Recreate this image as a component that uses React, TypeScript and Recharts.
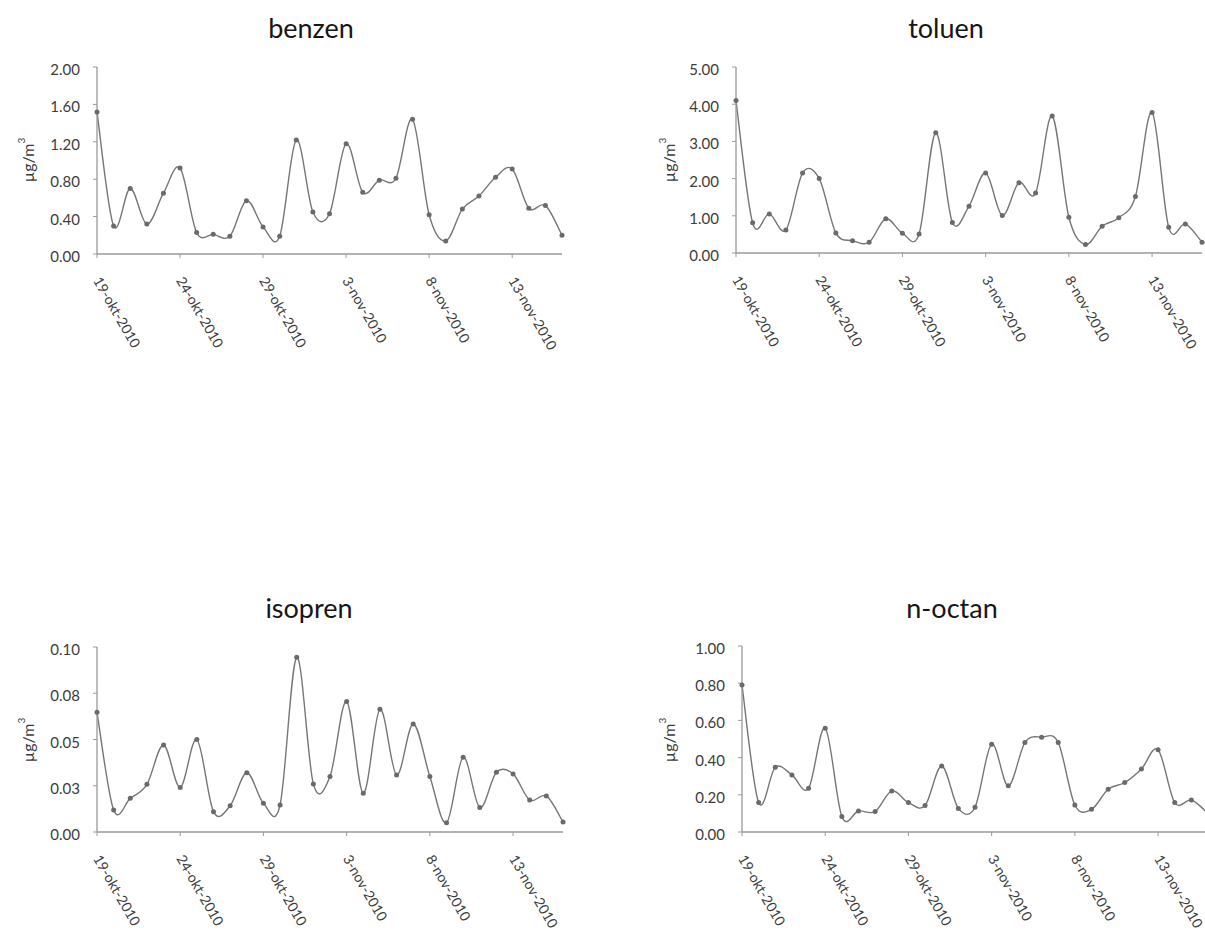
import React from 'react';
import { LineChart, Line, XAxis, YAxis } from 'recharts';

const dates = [
  '19-okt-2010', '20-okt-2010', '21-okt-2010', '22-okt-2010', '23-okt-2010', '24-okt-2010',
  '25-okt-2010', '26-okt-2010', '27-okt-2010', '28-okt-2010', '29-okt-2010', '30-okt-2010',
  '31-okt-2010', '1-nov-2010', '2-nov-2010', '3-nov-2010', '4-nov-2010', '5-nov-2010',
  '6-nov-2010', '7-nov-2010', '8-nov-2010', '9-nov-2010', '10-nov-2010', '11-nov-2010',
  '12-nov-2010', '13-nov-2010', '14-nov-2010', '15-nov-2010', '16-nov-2010',
];

const benzen = [1.52, 0.3, 0.7, 0.32, 0.65, 0.92, 0.23, 0.21, 0.19, 0.57, 0.29, 0.19, 1.22, 0.45, 0.43, 1.18, 0.66, 0.79, 0.81, 1.44, 0.42, 0.14, 0.48, 0.62, 0.82, 0.91, 0.49, 0.52, 0.2];
const toluen = [4.1, 0.81, 1.05, 0.62, 2.15, 2.0, 0.54, 0.33, 0.29, 0.92, 0.53, 0.51, 3.23, 0.82, 1.26, 2.15, 1.01, 1.89, 1.61, 3.68, 0.96, 0.23, 0.72, 0.95, 1.52, 3.78, 0.69, 0.78, 0.29];
const isopren = [0.0647, 0.0119, 0.0182, 0.0258, 0.047, 0.0241, 0.05, 0.011, 0.0142, 0.032, 0.0155, 0.0146, 0.0944, 0.026, 0.03, 0.0705, 0.0209, 0.0663, 0.0308, 0.0584, 0.03, 0.005, 0.0404, 0.0133, 0.0323, 0.0314, 0.0173, 0.0195, 0.0054];
const noctan = [0.79, 0.158, 0.348, 0.307, 0.235, 0.558, 0.083, 0.113, 0.11, 0.221, 0.158, 0.142, 0.355, 0.127, 0.133, 0.472, 0.248, 0.481, 0.51, 0.481, 0.145, 0.122, 0.23, 0.266, 0.339, 0.442, 0.158, 0.172, 0.1];

const benzenTicks = [0, 0.4, 0.8, 1.2, 1.6, 2.0];
const benzenTickLabels = ['0.00', '0.40', '0.80', '1.20', '1.60', '2.00'];
const toluenTicks = [0, 1, 2, 3, 4, 5];
const toluenTickLabels = ['0.00', '1.00', '2.00', '3.00', '4.00', '5.00'];
const isoprenTicks = [0, 0.025, 0.05, 0.075, 0.1];
const isoprenTickLabels = ['0.00', '0.03', '0.05', '0.08', '0.10'];
const noctanTicks = [0, 0.2, 0.4, 0.6, 0.8, 1.0];
const noctanTickLabels = ['0.00', '0.20', '0.40', '0.60', '0.80', '1.00'];

const titles = ['benzen', 'toluen', 'isopren', 'n-octan'];
const unitLabel = 'µg/m';
const unitSup = '3';

const FONT = 'Lato, "Open Sans", sans-serif';
const LINE_COLOR = '#767676';
const AXIS_COLOR = '#9a9a9a';
const TEXT_COLOR = '#3c3c3c';

// Excel-like smoothing (uniform Catmull-Rom through points)
const smoothCurve: any = (context: any) => {
  let pts: number[][] = [];
  return {
    areaStart() {},
    areaEnd() {},
    lineStart() {
      pts = [];
    },
    point(x: number, y: number) {
      pts.push([+x, +y]);
    },
    lineEnd() {
      const n = pts.length;
      if (!n) return;
      context.moveTo(pts[0][0], pts[0][1]);
      const t = 1 / 6;
      for (let i = 0; i < n - 1; i++) {
        const p0 = pts[i - 1] || pts[i];
        const p1 = pts[i];
        const p2 = pts[i + 1];
        const p3 = pts[i + 2] || p2;
        context.bezierCurveTo(
          p1[0] + (p2[0] - p0[0]) * t,
          p1[1] + (p2[1] - p0[1]) * t,
          p2[0] - (p3[0] - p1[0]) * t,
          p2[1] - (p3[1] - p1[1]) * t,
          p2[0],
          p2[1]
        );
      }
    },
  };
};

const XTick = (props: any) => {
  const { x, y, payload } = props;
  return (
    <g transform={`translate(${x},${y})`}>
      <text
        x={0}
        y={0}
        dy="0.35em"
        transform="rotate(60)"
        textAnchor="start"
        fontSize={14}
        fontFamily={FONT}
        fill={TEXT_COLOR}
      >
        {payload.value}
      </text>
    </g>
  );
};

const makeYTick = (ticks: number[], labels: string[]) => (props: any) => {
  const { x, y, payload } = props;
  const idx = ticks.findIndex((t) => Math.abs(t - payload.value) < 1e-9);
  const label = idx >= 0 ? labels[idx] : String(payload.value);
  return (
    <text
      x={x}
      y={y}
      dy={8}
      textAnchor="end"
      fontSize={15}
      fontFamily={FONT}
      fill={TEXT_COLOR}
    >
      {label}
    </text>
  );
};

type PanelProps = {
  values: number[];
  ticks: number[];
  tickLabels: string[];
  plotLeft: number;
  plotTop: number;
  plotW: number;
  plotH: number;
};

const Panel = (p: PanelProps) => {
  const data = dates.map((d, i) => ({ date: d, v: p.values[i] }));
  const mLeft = 30;
  const yW = 60;
  const mTop = 10;
  const xH = 140;
  const chartLeft = p.plotLeft - mLeft - yW;
  const chartTop = p.plotTop - mTop;
  const W = p.plotW + mLeft + yW + 20;
  const H = p.plotH + mTop + xH + 5;
  const YTick = makeYTick(p.ticks, p.tickLabels);
  return (
    <div style={{ position: 'absolute', left: chartLeft, top: chartTop }}>
      <LineChart
        width={W}
        height={H}
        data={data}
        margin={{ top: mTop, left: mLeft, right: 20, bottom: 5 }}
      >
        <XAxis
          dataKey="date"
          interval={4}
          height={xH}
          tick={<XTick />}
          tickSize={4}
          tickMargin={20}
          axisLine={{ stroke: AXIS_COLOR, strokeWidth: 1.3 }}
          tickLine={{ stroke: AXIS_COLOR }}
        />
        <YAxis
          width={yW}
          domain={[p.ticks[0], p.ticks[p.ticks.length - 1]]}
          ticks={p.ticks}
          tickSize={4}
          tickMargin={13}
          tick={<YTick />}
          axisLine={{ stroke: AXIS_COLOR, strokeWidth: 1.3 }}
          tickLine={{ stroke: AXIS_COLOR }}
          allowDataOverflow
        />
        <Line
          dataKey="v"
          type={smoothCurve}
          stroke={LINE_COLOR}
          strokeWidth={1.4}
          dot={{ r: 2.5, fill: '#6a6a6a', stroke: 'none' }}
          activeDot={false}
          isAnimationActive={false}
        />
      </LineChart>
    </div>
  );
};

const Title = ({ x, y, text }: { x: number; y: number; text: string }) => (
  <text x={x} y={y} textAnchor="middle" fontSize={27} fontFamily={FONT} fill="#161616">
    {text}
  </text>
);

const Unit = ({ x, y }: { x: number; y: number }) => (
  <text
    transform={`translate(${x},${y}) rotate(-90)`}
    textAnchor="middle"
    dominantBaseline="central"
    fontSize={16}
    fontFamily={FONT}
    fill={TEXT_COLOR}
  >
    {unitLabel}
    <tspan dy={-6} fontSize={10}>{unitSup}</tspan>
  </text>
);

export default function App() {
  return (
    <div
      style={{
        position: 'absolute',
        left: 0,
        top: 0,
        width: 1205,
        height: 936,
        overflow: 'hidden',
        background: '#fff',
      }}
    >
      <Panel values={benzen} ticks={benzenTicks} tickLabels={benzenTickLabels}
        plotLeft={97} plotTop={67} plotW={465} plotH={187} />
      <Panel values={toluen} ticks={toluenTicks} tickLabels={toluenTickLabels}
        plotLeft={736} plotTop={67} plotW={466} plotH={186} />
      <Panel values={isopren} ticks={isoprenTicks} tickLabels={isoprenTickLabels}
        plotLeft={97} plotTop={647} plotW={466} plotH={185} />
      <Panel values={noctan} ticks={noctanTicks} tickLabels={noctanTickLabels}
        plotLeft={742} plotTop={646} plotW={466} plotH={186} />
      <svg
        width={1205}
        height={936}
        style={{ position: 'absolute', left: 0, top: 0, pointerEvents: 'none' }}
      >
        <Title x={311} y={38} text={titles[0]} />
        <Title x={946} y={38} text={titles[1]} />
        <Title x={309} y={618} text={titles[2]} />
        <Title x={952} y={618} text={titles[3]} />
        <Unit x={27} y={160} />
        <Unit x={668} y={160} />
        <Unit x={27} y={740} />
        <Unit x={668} y={740} />
      </svg>
    </div>
  );
}
